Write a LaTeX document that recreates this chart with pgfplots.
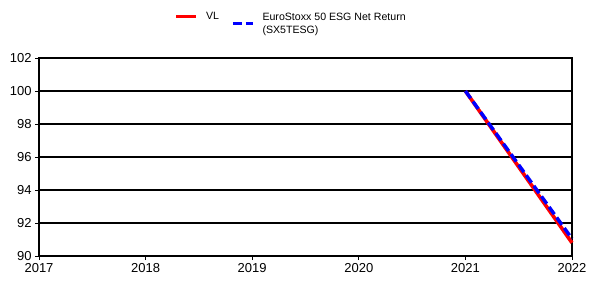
\documentclass[border=0pt]{standalone}
\usepackage{pgfplots}
\pgfplotsset{compat=1.18}
\usepackage{fontspec}
\setmainfont{Liberation Sans}
\begin{document}
\begin{tikzpicture}
\begin{axis}[
  scale only axis,
  width=533bp, height=198bp,
  xmin=2017, xmax=2022, ymin=90, ymax=102,
  xtick={2017,2018,2019,2020,2021,2022},
  ytick={90,92,94,96,98,100,102},
  xticklabel style={/pgf/number format/1000 sep={}},
  /pgf/number format/assume math mode=true,
  tick label style={font=\fontsize{13bp}{15bp}\selectfont, color=black},
  xtick pos=bottom, ytick pos=left,
  tick align=outside,
  major tick length=4bp,
  tick style={black, line width=0.8pt},
  axis line style={black, line width=1.1pt},
  ymajorgrids,
  grid style={black, line width=1.1pt},
  clip=false,
  legend columns=2,
  legend style={at={(rel axis cs:0.254,1.245)}, anchor=north west, draw=none, fill=none, inner sep=0pt,
    font=\fontsize{10.6bp}{13bp}\selectfont, column sep=6bp,
    /tikz/every even column/.append style={column sep=10bp}},
  legend cell align=left,
  legend image code/.code={\draw[#1] (0bp,0.5bp) -- (20bp,0.5bp);},
]
\addplot[red, line width=3.6bp] coordinates {(2021,100) (2022,90.8)};
\addlegendentry{VL}
\addplot[blue, line width=3.4bp, dash pattern=on 9bp off 4bp,
  legend image post style={yshift=-7bp}] coordinates {(2021,100) (2022,91.05)};
\addlegendentry{\begin{tabular}[t]{@{}l@{}}EuroStoxx 50 ESG Net Return\\(SX5TESG)\end{tabular}}
\coordinate (bl) at (rel axis cs:-0.0732,-0.1313);
\coordinate (tr) at (rel axis cs:1.0338,1.293);
\end{axis}
\pgfresetboundingbox
\path[use as bounding box] (bl) rectangle (tr);
\end{tikzpicture}
\end{document}
